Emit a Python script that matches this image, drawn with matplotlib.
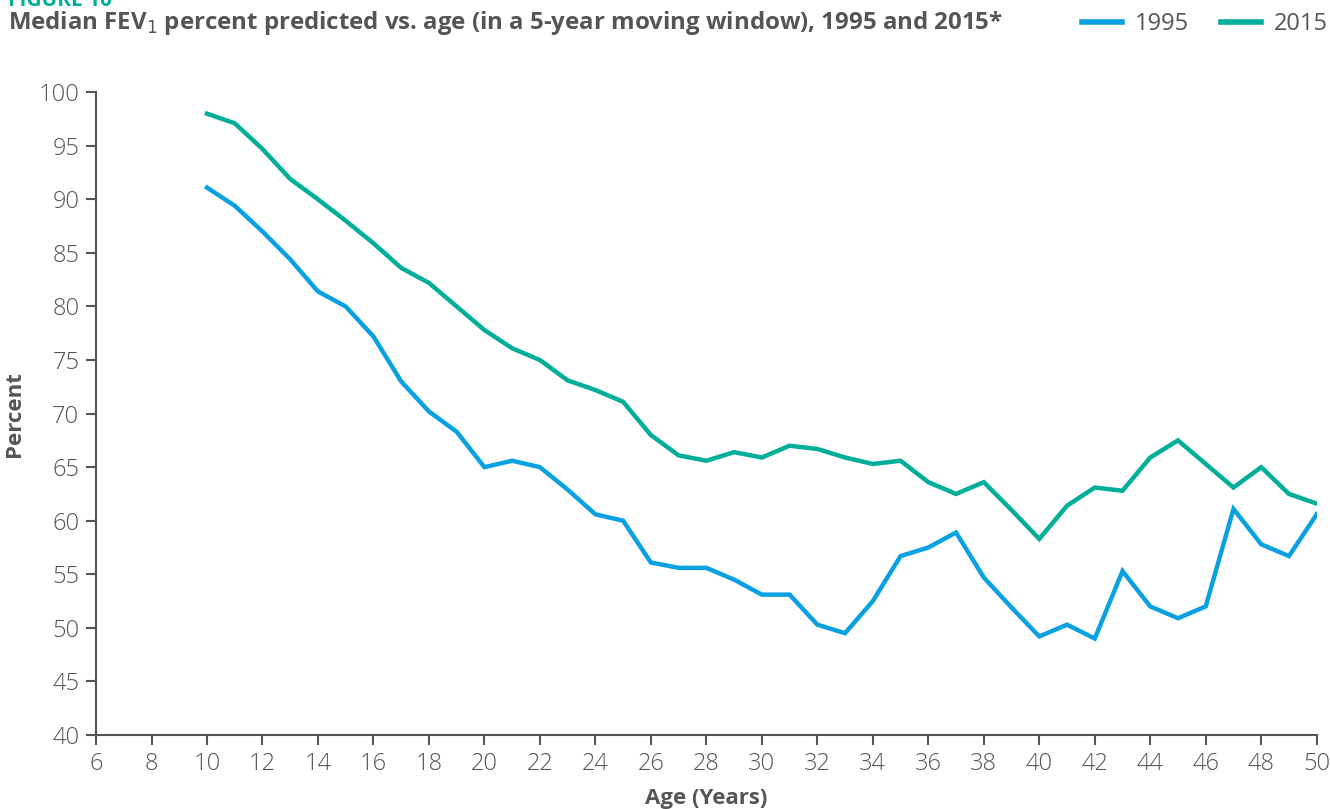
import matplotlib.pyplot as plt
from matplotlib.lines import Line2D

# Data
ages = list(range(10, 51))
fev_1995 = [91.1, 89.4, 87.0, 84.4, 81.4, 80.0, 77.2, 73.0, 70.2, 68.3,
            65.0, 65.6, 65.0, 62.9, 60.6, 60.0, 56.1, 55.6, 55.6, 54.5,
            53.1, 53.1, 50.3, 49.5, 52.5, 56.7, 57.5, 58.9, 54.7, 51.9,
            49.2, 50.3, 49.0, 55.3, 52.0, 50.9, 52.0, 61.1, 57.8, 56.7,
            60.6]
fev_2015 = [98.0, 97.1, 94.7, 91.9, 90.0, 88.0, 85.9, 83.6, 82.2, 80.0,
            77.8, 76.1, 75.0, 73.1, 72.2, 71.1, 68.0, 66.1, 65.6, 66.4,
            65.9, 67.0, 66.7, 65.9, 65.3, 65.6, 63.6, 62.5, 63.6, 61.0,
            58.3, 61.4, 63.1, 62.8, 65.9, 67.5, 65.3, 63.1, 65.0, 62.5,
            61.6]
x_ticks = list(range(6, 51, 2))
y_ticks = list(range(40, 101, 5))

blue = "#0AA1E2"
teal = "#00AE9A"
gray = "#555555"

plt.rcParams["font.family"] = ["Open Sans", "DejaVu Sans"]

fig = plt.figure(figsize=(13.3, 8.09), dpi=100)
ax = fig.add_axes([0.0722, 0.0915, 0.9178, 0.7945])

ax.plot(ages, fev_1995, color=blue, lw=3.2, solid_joinstyle="miter")
ax.plot(ages, fev_2015, color=teal, lw=3.2, solid_joinstyle="miter")

ax.set_xlim(6, 50)
ax.set_ylim(40, 100)
ax.set_xticks(x_ticks)
ax.set_yticks(y_ticks)
ax.tick_params(colors=gray, labelsize=17, width=1.5, length=7, pad=5)
for lab in ax.get_xticklabels() + ax.get_yticklabels():
    lab.set_fontweight("light")
for side in ["top", "right"]:
    ax.spines[side].set_visible(False)
for side in ["left", "bottom"]:
    ax.spines[side].set_color(gray)
    ax.spines[side].set_linewidth(1.5)

ax.set_xlabel("Age (Years)", fontsize=16, fontweight="bold", color=gray, labelpad=9)
ax.set_ylabel("Percent", fontsize=16, fontweight="bold", color=gray, labelpad=10)

fig.text(0.006, 0.9926, "FIGURE 10", color=teal, fontsize=15,
         fontweight="bold", va="baseline")
fig.text(0.006, 0.971, "Median FEV$_1$ percent predicted vs. age (in a 5-year moving window), 1995 and 2015*",
         color=gray, fontsize=17.3, fontweight="bold", va="center")

handles = [Line2D([], [], color=blue, lw=4), Line2D([], [], color=teal, lw=4)]
fig.legend(handles, ["1995", "2015"], loc="center right",
           bbox_to_anchor=(0.9985, 0.970), ncol=2, frameon=False,
           labelcolor=gray, handlelength=1.7,
           columnspacing=1.35, handletextpad=0.55,
           borderpad=0.0, borderaxespad=0.0,
           prop={"size": 17})

fig.savefig("out.png", dpi=100)
